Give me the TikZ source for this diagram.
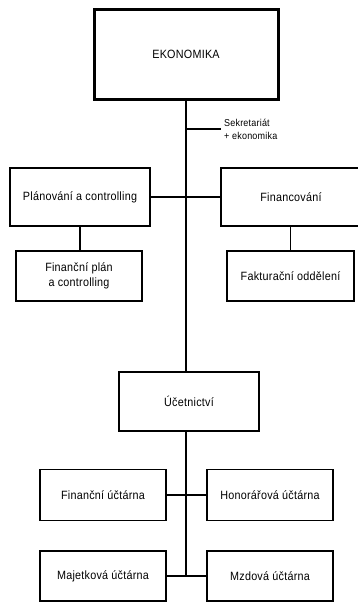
\documentclass[tikz,border=0pt]{standalone}
\usepackage{fontspec}
\setmainfont[FakeStretch=0.9,LetterSpace=2]{Liberation Sans}
\usepackage{tikz}
\usetikzlibrary{positioning}
\tikzset{>=latex}

\begin{document}
\begin{tikzpicture}[x=1pt,y=1pt,
	unit/.style={draw,line width=1.3pt,minimum width=126pt,minimum height=50pt,inner sep=0pt,align=center,font=\fontsize{12}{15}\selectfont},
	head/.style={unit,line width=3pt,minimum width=184pt,minimum height=90pt},
	link/.style={line width=1.4pt},
	tlink/.style={line width=2pt}]
	\useasboundingbox (0,0) rectangle (357,-603);
	\node[head] (ekon) at (186,-54) {EKONOMIKA};
	\node[unit,minimum width=140pt,minimum height=58pt] (plan) at (80,-197) {Plánování a controlling};
	\node[unit,minimum width=140pt,minimum height=58pt] (fin) at (291,-197) {Financování};
	\node[unit] (fplan) at (79,-276) {Finanční plán\\a controlling};
	\node[unit,minimum width=127pt] (fakt) at (290.5,-276) {Fakturační oddělení};
	\node[unit,minimum width=140pt,minimum height=59pt] (ucet) at (189,-401.5) {Účetnictví};
	\node[unit,minimum height=51pt] (fu) at (103,-495) {Finanční účtárna};
	\node[unit,minimum height=51pt] (hu) at (270,-495) {Honorářová účtárna};
	\node[unit] (mu) at (103,-576) {Majetková účtárna};
	\node[unit] (mz) at (270,-576) {Mzdová účtárna};
	\node[anchor=west,align=left,inner sep=3pt,font=\fontsize{10}{13}\selectfont] (sek) at (221,-129) {Sekretariát\\+ ekonomika};
	\draw[link] (ekon.south) -- (ekon |- ucet.north);
	\draw[link] (ekon |- sek.west) -- (sek.west);
	\draw[tlink] (plan.east) -- (fin.west);
	\draw[link] (plan.south) -- (plan.south |- fplan.north);
	\draw[link] (fakt.north) -- (fakt.north |- fin.south);
	\draw[link] (ekon |- ucet.south) -- (ekon |- mz);
	\draw[tlink] (fu.east) -- (hu.west);
	\draw[link] (mu.east) -- (mz.west);
\end{tikzpicture}
\end{document}
